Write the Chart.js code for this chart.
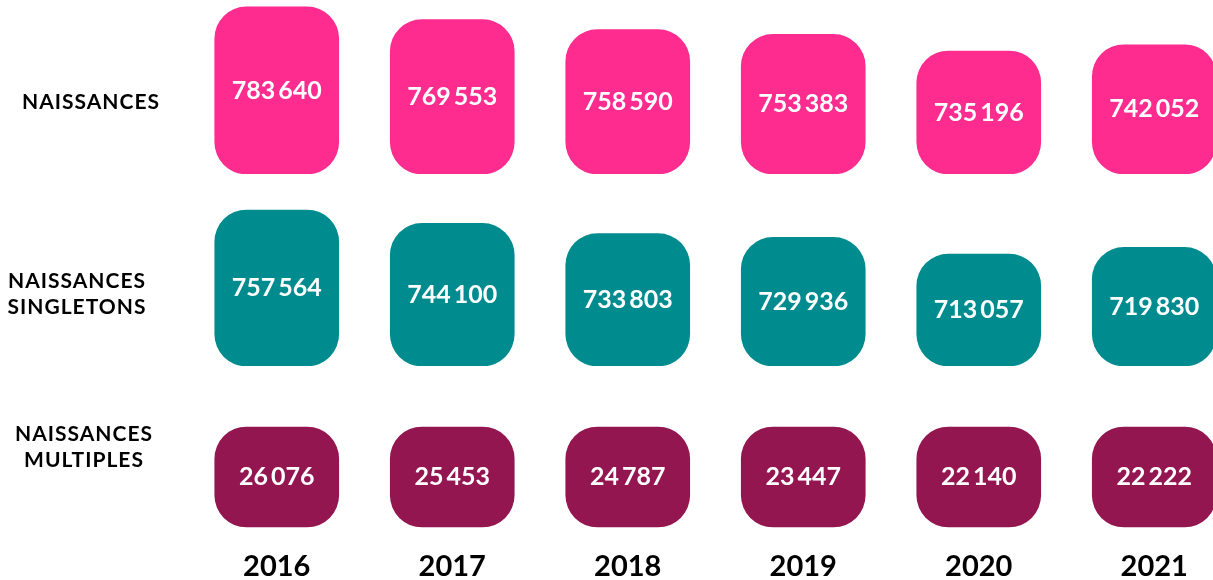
<!DOCTYPE html>
<html lang="fr">
<head>
    <meta charset="UTF-8">
    <title>Naissances 2016-2021</title>
    <script src="https://cdn.jsdelivr.net/npm/chart.js@4.4.1/dist/chart.umd.min.js"></script>
    <style>
        html, body {
            margin: 0;
            padding: 0;
            background: #ffffff;
            overflow: hidden;
        }
    </style>
</head>
<body>
<div class="chart-container" id="chart-container" style="position: relative; width: 1242px; height: 580px;">
    <canvas id="myChart"></canvas>
</div>

<script>
    // --- data ---
    let years = ['2016', '2017', '2018', '2019', '2020', '2021'];
    let naissances = [783640, 769553, 758590, 753383, 735196, 742052];
    let singletons = [757564, 744100, 733803, 729936, 713057, 719830];
    let multiples = [26076, 25453, 24787, 23447, 22140, 22222];
    let rowLabels = [['NAISSANCES'], ['NAISSANCES', 'SINGLETONS'], ['NAISSANCES', 'MULTIPLES']];

    const PINK = '#fd2c8e';
    const TEAL = '#008c8f';
    const PLUM = '#941650';
    const FONT = 'Lato, "Open Sans", sans-serif';

    // french grouping: thousands blocks, drawn with a thin gap
    function groups(n) {
        return String(n).replace(/\B(?=(\d{3})+(?!\d))/g, ' ').split(' ');
    }

    function drawGrouped(ctx, n, cx, cy, gap) {
        let parts = groups(n);
        let widths = parts.map(function (p) { return ctx.measureText(p).width; });
        let total = widths.reduce(function (a, b) { return a + b; }, 0) + gap * (parts.length - 1);
        let x = cx - total / 2;
        parts.forEach(function (p, k) {
            ctx.fillText(p, x, cy);
            x += widths[k] + gap;
        });
    }

    // white numbers in the middle of each box
    const boxLabels = {
        id: 'boxLabels',
        afterDatasetsDraw(chart) {
            const ctx = chart.ctx;
            ctx.save();
            ctx.fillStyle = '#ffffff';
            ctx.font = 'bold 25px ' + FONT;
            ctx.textAlign = 'left';
            ctx.textBaseline = 'middle';
            chart.data.datasets.forEach(function (ds, i) {
                chart.getDatasetMeta(i).data.forEach(function (bar, j) {
                    const p = bar.getProps(['x', 'y', 'base'], true);
                    drawGrouped(ctx, ds.counts[j], p.x, (p.y + p.base) / 2, 3);
                });
            });
            ctx.restore();
        }
    };

    // row titles on the left side
    const rowTitles = {
        id: 'rowTitles',
        afterDraw(chart) {
            const ctx = chart.ctx;
            const spots = [[91, [102]], [77, [281, 307]], [84, [434, 460]]];
            ctx.save();
            ctx.fillStyle = '#000000';
            ctx.font = 'bold 21px ' + FONT;
            ctx.letterSpacing = '1px';
            ctx.textAlign = 'center';
            ctx.textBaseline = 'middle';
            rowLabels.forEach(function (lines, r) {
                lines.forEach(function (txt, k) {
                    ctx.fillText(txt, spots[r][0], spots[r][1][k]);
                });
            });
            ctx.restore();
        }
    };

    let barStyle = {
        grouped: false,
        barThickness: 124,
        borderRadius: 32,
        borderSkipped: false
    };

    let config = {
        type: 'bar',
        data: {
            labels: years,
            datasets: [
                Object.assign({label: 'Naissances', data: naissances, counts: naissances, base: 600000,
                    backgroundColor: PINK, yAxisID: 'yNais'}, barStyle),
                Object.assign({label: 'Naissances singletons', data: singletons, counts: singletons, base: 600000,
                    backgroundColor: TEAL, yAxisID: 'ySing'}, barStyle),
                // multiple births are drawn as equal-size boxes
                Object.assign({label: 'Naissances multiples', data: multiples.map(function () { return 1; }),
                    counts: multiples, base: 0, backgroundColor: PLUM, yAxisID: 'yMult'}, barStyle)
            ]
        },
        options: {
            responsive: true,
            maintainAspectRatio: false,
            animation: false,
            layout: {
                padding: {left: 189, right: 0, top: 0, bottom: 0}
            },
            plugins: {
                legend: {display: false},
                title: {display: false},
                tooltip: {enabled: false}
            },
            scales: {
                x: {
                    grid: {display: false, drawTicks: false, tickLength: 0},
                    border: {display: false},
                    afterFit: function (scale) { scale.height = 40; },
                    ticks: {
                        color: '#000000',
                        padding: 12,
                        font: {family: FONT, size: 29, weight: 'bold', lineHeight: 1.0}
                    }
                },
                yNais: {
                    position: 'left', stack: 'rows', stackWeight: 174, weight: 3,
                    display: false, min: 600000, max: 791200
                },
                ySing: {
                    position: 'left', stack: 'rows', stackWeight: 192, weight: 2,
                    display: false, min: 600000, max: 793940
                },
                yMult: {
                    position: 'left', stack: 'rows', stackWeight: 174, weight: 1,
                    display: false, min: -0.13, max: 1.61
                }
            }
        },
        plugins: [boxLabels, rowTitles]
    };

    window.onload = function () {
        let ctx = document.getElementById('myChart');
        new Chart(ctx, config);
    };
</script>
</body>
</html>
